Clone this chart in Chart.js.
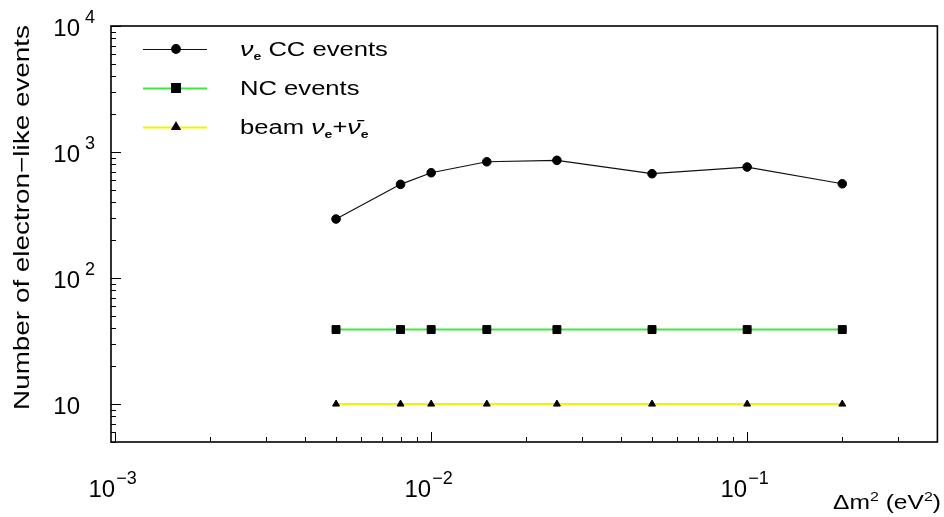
<!DOCTYPE html>
<html>
<head>
<meta charset="utf-8">
<script src="https://cdn.jsdelivr.net/npm/chart.js@4.4.1/dist/chart.umd.min.js"></script>
<style>
html, body { margin: 0; padding: 0; background: #fff; }
#wrap { width: 944px; height: 517px; position: relative; }
</style>
</head>
<body>
<div id="wrap"><canvas id="chart"></canvas></div>
<script>
// values
var dm2 = [0.005, 0.008, 0.01, 0.015, 0.025, 0.05, 0.1, 0.2];
var ccEvents = [294, 554, 685, 837, 859, 673, 760, 560];
var ncEvents = [39, 39, 39, 39, 39, 39, 39, 39];
var beamEvents = [10, 10, 10, 10, 10, 10, 10, 10];

var xTickValues = [0.001, 0.01, 0.1];
var xTickExps = ['\u22123', '\u22122', '\u22121'];
var yTickValues = [10, 100, 1000, 10000];
var yTickExps = ['', '2', '3', '4'];

var seriesNames = ['CC', 'NC', 'beam'];
var FONT = '"Liberation Sans", Arial, Helvetica, sans-serif';

function pts(ys) {
  return dm2.map(function(x, i) { return { x: x, y: ys[i] }; });
}

// 1..9 x 10^n inside the range
function logTicks(min, max) {
  var out = [];
  for (var e = Math.floor(Math.log10(min)); e <= Math.ceil(Math.log10(max)); e++) {
    for (var k = 1; k < 10; k++) {
      var v = k * Math.pow(10, e);
      if (v >= min * 0.9999 && v <= max * 1.0001) out.push({ value: v, major: k === 1 });
    }
  }
  return out;
}

function richWidth(ctx, parts) {
  var w = 0;
  parts.forEach(function(p) { ctx.font = p.font; w += ctx.measureText(p.t).width; });
  return w;
}

function drawRich(ctx, parts, x, y, sx) {
  ctx.save();
  ctx.translate(x, y);
  ctx.scale(sx, 1);
  ctx.textAlign = 'left';
  ctx.textBaseline = 'alphabetic';
  var cx = 0;
  parts.forEach(function(p) {
    ctx.font = p.font;
    ctx.fillText(p.t, cx, p.dy || 0);
    cx += ctx.measureText(p.t).width;
  });
  ctx.restore();
}

var txt = '20px ' + FONT;
var greek = 'italic 21px ' + FONT;
var sub = 'bold 11px ' + FONT;
var sup = '13px ' + FONT;
var legendRows = [
  [{ t: '\u03bd', font: greek }, { t: 'e', font: sub, dy: 4 }, { t: ' CC events', font: txt }],
  [{ t: 'NC events', font: txt }],
  [{ t: 'beam ', font: txt }, { t: '\u03bd', font: greek }, { t: 'e', font: sub, dy: 4 },
   { t: '+', font: txt }, { t: '\u03bd\u0304', font: greek }, { t: 'e', font: sub, dy: 4 }]
];
var xTitleParts = [
  { t: '\u0394m', font: txt }, { t: '2', font: sup, dy: -8 },
  { t: ' (eV', font: txt }, { t: '2', font: sup, dy: -8 }, { t: ')', font: txt }
];

var framePlugin = {
  id: 'frame',
  afterDraw: function(chart) {
    var ctx = chart.ctx, a = chart.chartArea;
    var xs = chart.scales.x, ys = chart.scales.y;
    ctx.save();
    ctx.strokeStyle = '#000';
    ctx.fillStyle = '#000';

    // inward ticks
    ctx.lineWidth = 1;
    ctx.beginPath();
    xs.ticks.forEach(function(t) {
      var px = Math.round(xs.getPixelForValue(t.value)) + 0.5;
      ctx.moveTo(px, a.bottom);
      ctx.lineTo(px, a.bottom - (t.major ? 10 : 5));
    });
    ys.ticks.forEach(function(t) {
      var py = Math.round(ys.getPixelForValue(t.value)) + 0.5;
      ctx.moveTo(a.left, py);
      ctx.lineTo(a.left + (t.major ? 10 : 5), py);
    });
    ctx.stroke();

    ctx.lineWidth = 1.6;
    ctx.strokeRect(a.left, a.top, a.right - a.left, a.bottom - a.top);

    // tick labels
    xTickValues.forEach(function(v, i) {
      var px = xs.getPixelForValue(v);
      ctx.font = '24px ' + FONT;
      ctx.textAlign = 'right';
      ctx.fillText('10', px, 497);
      ctx.font = '18px ' + FONT;
      ctx.textAlign = 'left';
      ctx.fillText(xTickExps[i], px + 1, 484);
    });
    yTickValues.forEach(function(v, i) {
      var py = ys.getPixelForValue(v);
      ctx.font = '24px ' + FONT;
      ctx.textAlign = 'right';
      ctx.fillText('10', 80, py + 10);
      if (yTickExps[i]) {
        ctx.font = '18px ' + FONT;
        ctx.textAlign = 'left';
        ctx.fillText(yTickExps[i], 85, py - 3);
      }
    });

    // axis titles, stretched like the original
    ctx.font = '22px ' + FONT;
    var yTitle = 'Number of electron\u2212like events';
    var w = ctx.measureText(yTitle).width;
    ctx.save();
    ctx.translate(29, 410);
    ctx.rotate(-Math.PI / 2);
    ctx.scale(385 / w, 1);
    ctx.textAlign = 'left';
    ctx.fillText(yTitle, 0, 0);
    ctx.restore();

    var wx = richWidth(ctx, xTitleParts);
    var sxT = 108 / wx;
    drawRich(ctx, xTitleParts, 941 - wx * sxT, 509, sxT);

    // legend
    var rowY = [49, 88, 127];
    chart.data.datasets.forEach(function(ds, i) {
      var y = rowY[i];
      ctx.strokeStyle = ds.borderColor;
      ctx.lineWidth = ds.borderWidth;
      ctx.beginPath();
      ctx.moveTo(143, y + 0.5);
      ctx.lineTo(207, y + 0.5);
      ctx.stroke();
      ctx.fillStyle = '#000';
      ctx.strokeStyle = '#000';
      if (Chart.helpers && Chart.helpers.drawPoint) {
        Chart.helpers.drawPoint(ctx, { pointStyle: ds.pointStyle, radius: ds.pointRadius, rotation: 0, borderWidth: 1 }, 176, y);
      }
      ctx.fillStyle = '#000';
      drawRich(ctx, legendRows[i], 240, y + 7, 1.28);
    });
    ctx.restore();
  }
};

new Chart(document.getElementById('chart'), {
  type: 'line',
  data: {
    datasets: [
      { label: seriesNames[0], data: pts(ccEvents), borderColor: '#111', borderWidth: 1.2,
        pointStyle: 'circle', pointRadius: 4.3, pointBackgroundColor: '#000', pointBorderColor: '#000', pointBorderWidth: 1 },
      { label: seriesNames[1], data: pts(ncEvents), borderColor: '#3ee83e', borderWidth: 2,
        pointStyle: 'rect', pointRadius: 5.6, pointBackgroundColor: '#000', pointBorderColor: '#000', pointBorderWidth: 1 },
      { label: seriesNames[2], data: pts(beamEvents), borderColor: '#f4f400', borderWidth: 2,
        pointStyle: 'triangle', pointRadius: 4, pointBackgroundColor: '#000', pointBorderColor: '#000', pointBorderWidth: 1 }
    ]
  },
  options: {
    responsive: true,
    maintainAspectRatio: false,
    animation: false,
    layout: { padding: { top: 26, right: 3, left: 0, bottom: 0 } },
    elements: { line: { tension: 0 } },
    plugins: { legend: { display: false }, tooltip: { enabled: false } },
    scales: {
      x: {
        type: 'logarithmic', min: 0.00097, max: 0.4,
        grid: { display: false }, border: { display: false },
        ticks: { display: false },
        afterBuildTicks: function(s) { s.ticks = logTicks(s.min, s.max); },
        afterFit: function(s) { s.height = 75; s.paddingLeft = 0; s.paddingRight = 0; }
      },
      y: {
        type: 'logarithmic', min: 5, max: 10000,
        grid: { display: false }, border: { display: false },
        ticks: { display: false },
        afterBuildTicks: function(s) { s.ticks = logTicks(s.min, s.max); },
        afterFit: function(s) { s.width = 111; s.paddingTop = 0; s.paddingBottom = 0; }
      }
    }
  },
  plugins: [framePlugin]
});
</script>
</body>
</html>
